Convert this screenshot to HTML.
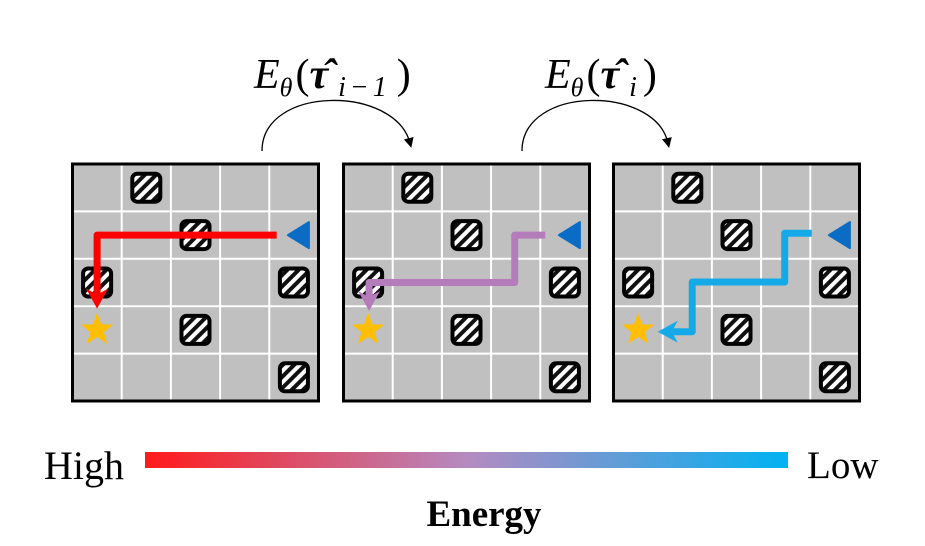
<!DOCTYPE html>
<html><head><meta charset="utf-8"><style>
html,body{margin:0;padding:0;background:#fff}
svg{display:block}
text{font-family:"Liberation Serif",serif}
</style></head><body>
<svg id="fig" width="925" height="546" viewBox="0 0 925 546" xmlns="http://www.w3.org/2000/svg">
<defs>
<pattern id="hatch" width="8" height="8" patternUnits="userSpaceOnUse" patternTransform="rotate(45)">
<rect width="8" height="8" fill="#fff"/><rect width="4" height="8" fill="#111"/></pattern>
<linearGradient id="eg" x1="0" x2="1"><stop offset="0" stop-color="#ff1a1a"/><stop offset="0.5" stop-color="#b58ac0"/><stop offset="1" stop-color="#00b2f2"/></linearGradient>
<marker id="ah" markerWidth="10" markerHeight="10" refX="5" refY="5" orient="auto" markerUnits="userSpaceOnUse"><path d="M0,0 L10,5 L0,10 Z" fill="#000"/></marker>
</defs>
<g id="grids"></g>
<path d="M262,151 C262,85 395,85 410,143" fill="none" stroke="#000" stroke-width="1.3" marker-end="url(#ah)"/>
<path d="M522,151 C522,85 655,85 668,143" fill="none" stroke="#000" stroke-width="1.3" marker-end="url(#ah)"/>
<text x="254" y="88" font-size="42" font-style="italic">E<tspan font-size="26" dy="8">θ</tspan><tspan dy="-8" dx="3" font-style="normal">(</tspan><tspan font-weight="bold">τ̂</tspan><tspan font-size="28" dy="8" dx="10" letter-spacing="4">i−1</tspan><tspan dy="-8" dx="6" font-style="normal">)</tspan></text>
<text x="545" y="88" font-size="42" font-style="italic">E<tspan font-size="26" dy="8">θ</tspan><tspan dy="-8" dx="3" font-style="normal">(</tspan><tspan font-weight="bold">τ̂</tspan><tspan font-size="28" dy="8" dx="10">i</tspan><tspan dy="-8" dx="6" font-style="normal">)</tspan></text>
<rect x="145" y="452" width="643" height="16" fill="url(#eg)"/>
<text x="44" y="479" font-size="40">High</text>
<text x="807" y="478" font-size="39">Low</text>
<text x="484" y="526" font-size="37" font-weight="bold" text-anchor="middle">Energy</text>
</svg>
<script>
const gridOffsets=[0,271,541];
const obstacles=[[0,1],[1,2],[2,0],[2,4],[3,2],[4,4]];
const pathColors=["#ff0000","#b57cbc","#14aae8"];
// path waypoints in cell units (col,row) for each grid
const paths=[
 [[3.65,1],[0,1],[0,2.55]],
 [[3.6,1],[2.98,1],[2.98,2],[0.02,2],[0.02,2.6]],
 [[3.53,0.96],[2.98,0.96],[2.98,1.99],[1.1,1.99],[1.1,3.04],[0.4,3.04]]
];
const cellW=49.2,cellH=47.4,x0=72.5,y0=164;
const cx=(o,c)=>x0+o+cellW*(c+0.5);
const cy=r=>y0+cellH*(r+0.5);
const NS="http://www.w3.org/2000/svg";
const g=document.getElementById('grids');
function mk(t,a,p){const e=document.createElementNS(NS,t);for(const k in a)e.setAttribute(k,a[k]);(p||g).appendChild(e);return e;}
gridOffsets.forEach((o,gi)=>{
 const gg=mk('g',{});
 
 
 mk('rect',{x:x0+o,y:y0,width:cellW*5,height:cellH*5,fill:'#c0c0c0'},gg);
 for(let i=1;i<5;i++){
  mk('line',{x1:x0+o+cellW*i,x2:x0+o+cellW*i,y1:y0,y2:y0+cellH*5,stroke:'#fff','stroke-width':2},gg);
  mk('line',{x1:x0+o,x2:x0+o+cellW*5,y1:y0+cellH*i,y2:y0+cellH*i,stroke:'#fff','stroke-width':2},gg);
 }
 obstacles.forEach(([r,c])=>{
  const ob=mk('rect',{x:cx(o,c)-14,y:cy(r)-14,width:28,height:28,rx:5,fill:'url(#hatch)',stroke:'#000','stroke-width':4},gg);
  
  
 });
 mk('rect',{x:x0+o,y:y0,width:cellW*5,height:cellH*5,fill:'none',stroke:'#000','stroke-width':3},gg);
 const sx=cx(o,0),sy=cy(3);let d='';
 for(let k=0;k<10;k++){const rr=k%2?7:17,a=-Math.PI/2+k*Math.PI/5;d+=(k?'L':'M')+(sx+rr*Math.cos(a)).toFixed(1)+','+(sy+rr*Math.sin(a)).toFixed(1);}
 const st=mk('path',{d:d+'Z',fill:'#ffbf00'},gg);
 
 
 const pts=paths[gi].map(([c,r])=>[cx(o,c),cy(r)]);
 const n=pts.length,[ax,ay]=pts[n-1],[bx,by]=pts[n-2];
 const L=Math.hypot(ax-bx,ay-by),ux=(ax-bx)/L,uy=(ay-by)/L;
 const hb=[ax-ux*14,ay-uy*14];
 const lp=pts.slice(0,-1).concat([hb]);
 const pl=mk('polyline',{points:lp.map(p=>p.join(',')).join(' '),fill:'none',stroke:pathColors[gi],'stroke-width':7,'stroke-linejoin':'round'},gg);
 
 
 const px=-uy,py=ux;
 const hd=`M${ax},${ay} L${ax-ux*20+px*11},${ay-uy*20+py*11} L${ax-ux*14},${ay-uy*14} L${ax-ux*20-px*11},${ay-uy*20-py*11}Z`;
 const ah=mk('path',{d:hd,fill:pathColors[gi]},gg);
 
 
 const tx=cx(o,4)+8,ty=cy(1);
 const tr=mk('path',{d:`M${tx-14},${ty} L${tx+7},${ty-13} L${tx+7},${ty+13}Z`,fill:'#0a6cc4','stroke':'#0a6cc4','stroke-width':2,'stroke-linejoin':'round'},gg);
 
 
});
</script>
</body></html>
